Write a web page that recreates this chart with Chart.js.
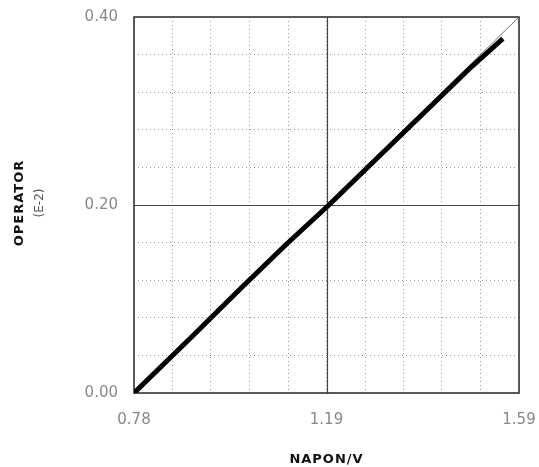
<!DOCTYPE html>
<html>
<head>
<meta charset="utf-8">
<script src="https://cdn.jsdelivr.net/npm/chart.js@4/dist/chart.umd.min.js"></script>
<style>
  html, body { margin: 0; padding: 0; background: #fff; }
  #wrap { width: 539px; height: 467px; }
</style>
</head>
<body>
<div id="wrap"><canvas id="ivChart" width="539" height="467"></canvas></div>
<script>
// measured curve
const voltage = [0.78, 0.90, 1.00, 1.10, 1.19, 1.30, 1.40, 1.49, 1.556];
const current = [0.000, 0.059, 0.109, 0.158, 0.200, 0.254, 0.303, 0.347, 0.377];

// thin reference diagonal
const refX = [0.78, 1.59];
const refY = [0.00, 0.40];

// grid / tick values
const xGrid = [0.78, 0.861, 0.942, 1.023, 1.104, 1.185, 1.266, 1.347, 1.428, 1.509, 1.59];
const yGrid = [0, 0.04, 0.08, 0.12, 0.16, 0.20, 0.24, 0.28, 0.32, 0.36, 0.40];
const xTickLabels = { 0: '0.78', 5: '1.19', 10: '1.59' };
const yTickLabels = { 0: '0.00', 5: '0.20', 10: '0.40' };

const xTitle = 'NAPON/V';
const yTitle = 'OPERATOR';
const yUnit = '(E-2)';

// frame, solid major lines and axis titles
const framePlugin = {
    id: 'frame',
    beforeDatasetsDraw(chart) {
        const { ctx, chartArea: a, scales } = chart;
        ctx.save();
        ctx.strokeStyle = '#444';
        ctx.lineWidth = 1.2;
        const mx = Math.round(scales.x.getPixelForValue(xGrid[5])) + 0.5;
        const my = Math.round(scales.y.getPixelForValue(yGrid[5])) + 0.5;
        ctx.beginPath();
        ctx.moveTo(mx, a.top); ctx.lineTo(mx, a.bottom);
        ctx.moveTo(a.left, my); ctx.lineTo(a.right, my);
        ctx.stroke();
        ctx.lineWidth = 1.6;
        ctx.strokeStyle = '#333';
        ctx.strokeRect(a.left, a.top, a.right - a.left, a.bottom - a.top);
        ctx.restore();
    },
    afterDraw(chart) {
        const { ctx, chartArea: a } = chart;
        ctx.save();
        ctx.fillStyle = '#111';
        ctx.textAlign = 'center';
        ctx.textBaseline = 'middle';
        ctx.font = 'bold 13px "DejaVu Sans"';
        ctx.letterSpacing = '1px';
        ctx.fillText(xTitle, (a.left + a.right) / 2, 460);
        const cy = (a.top + a.bottom) / 2;
        ctx.translate(20, cy - 2);
        ctx.rotate(-Math.PI / 2);
        ctx.fillText(yTitle, 0, 0);
        ctx.letterSpacing = '0px';
        ctx.font = '12px "DejaVu Sans"';
        ctx.fillStyle = '#555';
        ctx.fillText(yUnit, 0, 20);
        ctx.restore();
    }
};

new Chart(document.getElementById('ivChart'), {
    type: 'scatter',
    data: {
        datasets: [
            {
                data: refX.map((x, i) => ({ x: x, y: refY[i] })),
                showLine: true,
                borderColor: '#777',
                borderWidth: 1,
                pointRadius: 0,
                order: 2
            },
            {
                data: voltage.map((x, i) => ({ x: x, y: current[i] })),
                showLine: true,
                borderColor: '#000',
                borderWidth: 5,
                borderJoinStyle: 'round',
                pointRadius: 0,
                order: 1
            }
        ]
    },
    options: {
        responsive: false,
        animation: false,
        layout: { padding: { left: 0, top: 17, right: 20, bottom: 0 } },
        plugins: { legend: { display: false }, tooltip: { enabled: false } },
        scales: {
            x: {
                type: 'linear',
                min: 0.78,
                max: 1.59,
                afterBuildTicks: s => { s.ticks = xGrid.map(v => ({ value: v })); },
                afterFit: s => { s.height = 74; s.paddingRight = 0; },
                grid: { color: '#999', lineWidth: 1, drawTicks: false },
                border: { display: false, dash: [1, 3] },
                ticks: {
                    padding: 18,
                    maxRotation: 0,
                    autoSkip: false,
                    color: '#888',
                    font: { family: 'DejaVu Sans', size: 15 },
                    callback: (v, i) => xTickLabels[i] || ''
                }
            },
            y: {
                type: 'linear',
                min: 0,
                max: 0.40,
                afterBuildTicks: s => { s.ticks = yGrid.map(v => ({ value: v })); },
                afterFit: s => { s.width = 134; s.paddingTop = 0; s.paddingBottom = 0; },
                grid: { color: '#999', lineWidth: 1, drawTicks: false },
                border: { display: false, dash: [1, 3] },
                ticks: {
                    padding: 16,
                    autoSkip: false,
                    color: '#888',
                    font: { family: 'DejaVu Sans', size: 15 },
                    callback: (v, i) => yTickLabels[i] || ''
                }
            }
        }
    },
    plugins: [framePlugin]
});
</script>
</body>
</html>
